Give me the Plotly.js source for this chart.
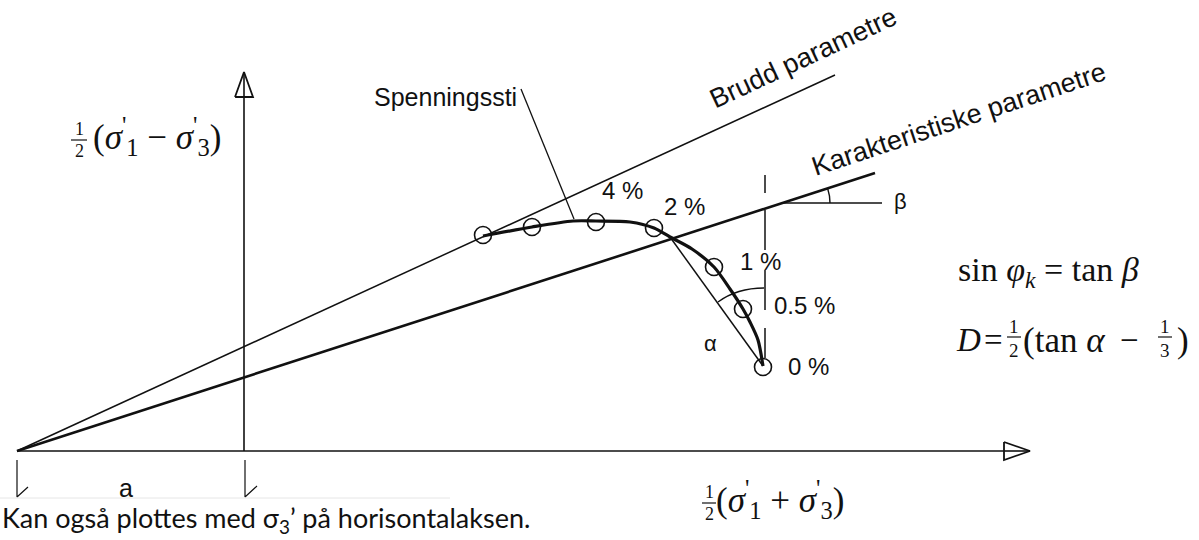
<!DOCTYPE html>
<html>
<head>
<meta charset="utf-8">
<script src="https://cdn.plot.ly/plotly-3.0.1.min.js"></script>
<style>html,body{margin:0;padding:0;background:#fff;}#chart{width:1199px;height:540px;}</style>
</head>
<body>
<div id="chart"></div>
<script>
// ---- values (diagram units = picture pixels) ----
const origin = [17, 451];
const bruddEnd = [835, 75];
const charEnd = [875, 173];
const yAxisX = [244, 244];
const yAxisY = [72, 451];
const xAxisX = [17, 1030];
const xAxisY = [451, 451];

// stress path (Spenningssti), from 0 % upward
const pathX = [763, 758, 750, 743, 730, 714, 692, 670, 654, 630, 596, 573, 532, 483];
const pathY = [366, 340, 322, 309, 289, 267, 249, 237, 228, 222, 221, 221, 227, 236];
// measured points
const ptX = [763, 743, 714, 654, 596, 532, 483];
const ptY = [367, 309, 267, 228, 222, 227, 235];
// strain labels
const strainText = ['0 %', '0.5 %', '1 %', '2 %', '4 %'];
const strainX = [786, 772, 738, 662, 600];
const strainY = [366, 305, 261, 206, 190];

// secant line for alpha
const secX = [763, 670];
const secY = [366, 237];
// beta reference line
const betaX = [782, 882];
const betaY = [203, 203];
// vertical reference line (dashed by gaps)
const vrefX = [765, 765, null, 765, 765, null, 765, 765, null, 765, 765];
const vrefY = [175, 193, null, 210, 250, null, 270, 310, null, 328, 358];
// leader for "Spenningssti"
const leadX = [521, 574];
const leadY = [89, 219];
// dimension "a"
const dimX = [17, 17, 28, null, 245, 245, 257];
const dimY = [460, 497, 487, null, 460, 497, 486];
// arrowheads
const upArrowX = [235, 253, 244, 235];
const upArrowY = [97, 97, 72, 97];
const rightArrowX = [1004, 1004, 1030, 1004];
const rightArrowY = [442, 460, 451, 442];
// arcs: [start, control, end]
const alphaArc = [[718, 302], [737, 288], [764, 288]];
const betaArc = [[830, 203], [830, 195.6], [827.6, 188.2]];
// fraction bars
const fracBarX = [71, 87, null, 702, 716, null, 1007, 1021, null, 1158, 1172];
const fracBarY = [140, 140, null, 503, 503, null, 337, 337, null, 337, 337];

const black = '#111';
const line = (x, y, w, extra) => Object.assign({type: 'scatter', mode: 'lines', x: x, y: y,
  line: {color: black, width: w}, hoverinfo: 'skip', connectgaps: false}, extra || {});

const traces = [
  line(yAxisX, yAxisY, 1.6),
  line(xAxisX, xAxisY, 1.6),
  line([origin[0], bruddEnd[0]], [origin[1], bruddEnd[1]], 1.5),
  line([origin[0], charEnd[0]], [origin[1], charEnd[1]], 2.6),
  line(betaX, betaY, 1.5),
  line(vrefX, vrefY, 1.5),
  line(secX, secY, 1.5),
  line(leadX, leadY, 1.3),
  line(dimX, dimY, 1.2),
  line([0, 450], [498, 498], 1, {line: {color: '#e6e6e6', width: 1}}),
  line(fracBarX, fracBarY, 1.2),
  line(pathX, pathY, 3.2, {line: {color: black, width: 3.2, shape: 'spline', smoothing: 0.8}}),
  {type: 'scatter', mode: 'lines', x: upArrowX, y: upArrowY, fill: 'toself', fillcolor: '#fff',
   line: {color: black, width: 1.8}, hoverinfo: 'skip'},
  {type: 'scatter', mode: 'lines', x: rightArrowX, y: rightArrowY, fill: 'toself', fillcolor: '#fff',
   line: {color: black, width: 1.8}, hoverinfo: 'skip'},
  line([244, 244], [72, 97], 1.6),
  line([1004, 1030], [451, 451], 1.6),
  {type: 'scatter', mode: 'markers', x: ptX, y: ptY, hoverinfo: 'skip',
   marker: {symbol: 'circle-open', size: 17, color: black, line: {width: 1.6, color: black}}}
];

const arcPath = a => `M ${a[0][0]},${a[0][1]} Q ${a[1][0]},${a[1][1]} ${a[2][0]},${a[2][1]}`;
const shapes = [
  {type: 'path', xref: 'x', yref: 'y', path: arcPath(alphaArc), line: {color: black, width: 1.4}},
  {type: 'path', xref: 'x', yref: 'y', path: arcPath(betaArc), line: {color: black, width: 1.4}}
];

const sans = 'Liberation Sans, Arial, sans-serif';
const serif = 'Liberation Serif, Times New Roman, serif';
const ann = (text, x, y, size, fam, extra) => Object.assign({text: text, x: x, y: y, xref: 'x', yref: 'y',
  showarrow: false, xanchor: 'left', yanchor: 'middle', font: {family: fam, size: size, color: black}}, extra || {});

const annotations = [];
strainText.forEach((t, i) => annotations.push(ann(t, strainX[i], strainY[i], 24, sans)));
annotations.push(ann('Spenningssti', 519, 97, 25, sans, {xanchor: 'right'}));
annotations.push(ann('Brudd parametre', 803, 58, 27, sans, {xanchor: 'center', textangle: -25}));
annotations.push(ann('Karakteristiske parametre', 959, 119, 27, sans, {xanchor: 'center', textangle: -18.3}));
annotations.push(ann('β', 892, 201, 22, sans));
annotations.push(ann('α', 702, 343, 22, sans));
annotations.push(ann('a', 117, 488, 25, sans));
// y axis title: 1/2 (σ'1 − σ'3)
annotations.push(ann('1', 79, 129, 18, serif, {xanchor: 'center'}));
annotations.push(ann('2', 79, 151, 18, serif, {xanchor: 'center'}));
annotations.push(ann("(<i>σ</i><sup>'</sup><sub>1</sub> − <i>σ</i><sup>'</sup><sub>3</sub>)", 91, 136, 35, serif));
// x axis title: 1/2 (σ'1 + σ'3)
annotations.push(ann('1', 709, 492, 18, serif, {xanchor: 'center'}));
annotations.push(ann('2', 709, 514, 18, serif, {xanchor: 'center'}));
annotations.push(ann("(<i>σ</i><sup>'</sup><sub>1</sub> + <i>σ</i><sup>'</sup><sub>3</sub>)", 714, 499, 35, serif));
// formulas
annotations.push(ann('sin <i>φ</i><sub><i>k</i></sub> = tan <i>β</i>', 956, 272, 34, serif));
annotations.push(ann('<i>D</i>', 954, 340, 33, serif));
annotations.push(ann('=', 982, 340, 33, serif));
annotations.push(ann('1', 1014, 326, 19, serif, {xanchor: 'center'}));
annotations.push(ann('2', 1014, 350, 19, serif, {xanchor: 'center'}));
annotations.push(ann('(tan <i>α</i>', 1021, 340, 35, serif));
annotations.push(ann('−', 1118, 340, 33, serif));
annotations.push(ann('1', 1165, 326, 19, serif, {xanchor: 'center'}));
annotations.push(ann('3', 1165, 350, 19, serif, {xanchor: 'center'}));
annotations.push(ann(')', 1175, 340, 35, serif));
// note
annotations.push(ann('Kan også plottes med σ<sub>3</sub>’ på horisontalaksen.', 0, 540, 27, 'Lato, Open Sans, sans-serif', {yanchor: 'bottom'}));

const layout = {
  width: 1199, height: 540,
  margin: {l: 0, r: 0, t: 0, b: 0},
  paper_bgcolor: '#fff', plot_bgcolor: '#fff',
  showlegend: false,
  xaxis: {range: [0, 1199], visible: false, fixedrange: true},
  yaxis: {range: [540, 0], visible: false, fixedrange: true},
  shapes: shapes,
  annotations: annotations
};

Plotly.newPlot('chart', traces, layout, {staticPlot: true, displayModeBar: false});
</script>
</body>
</html>
